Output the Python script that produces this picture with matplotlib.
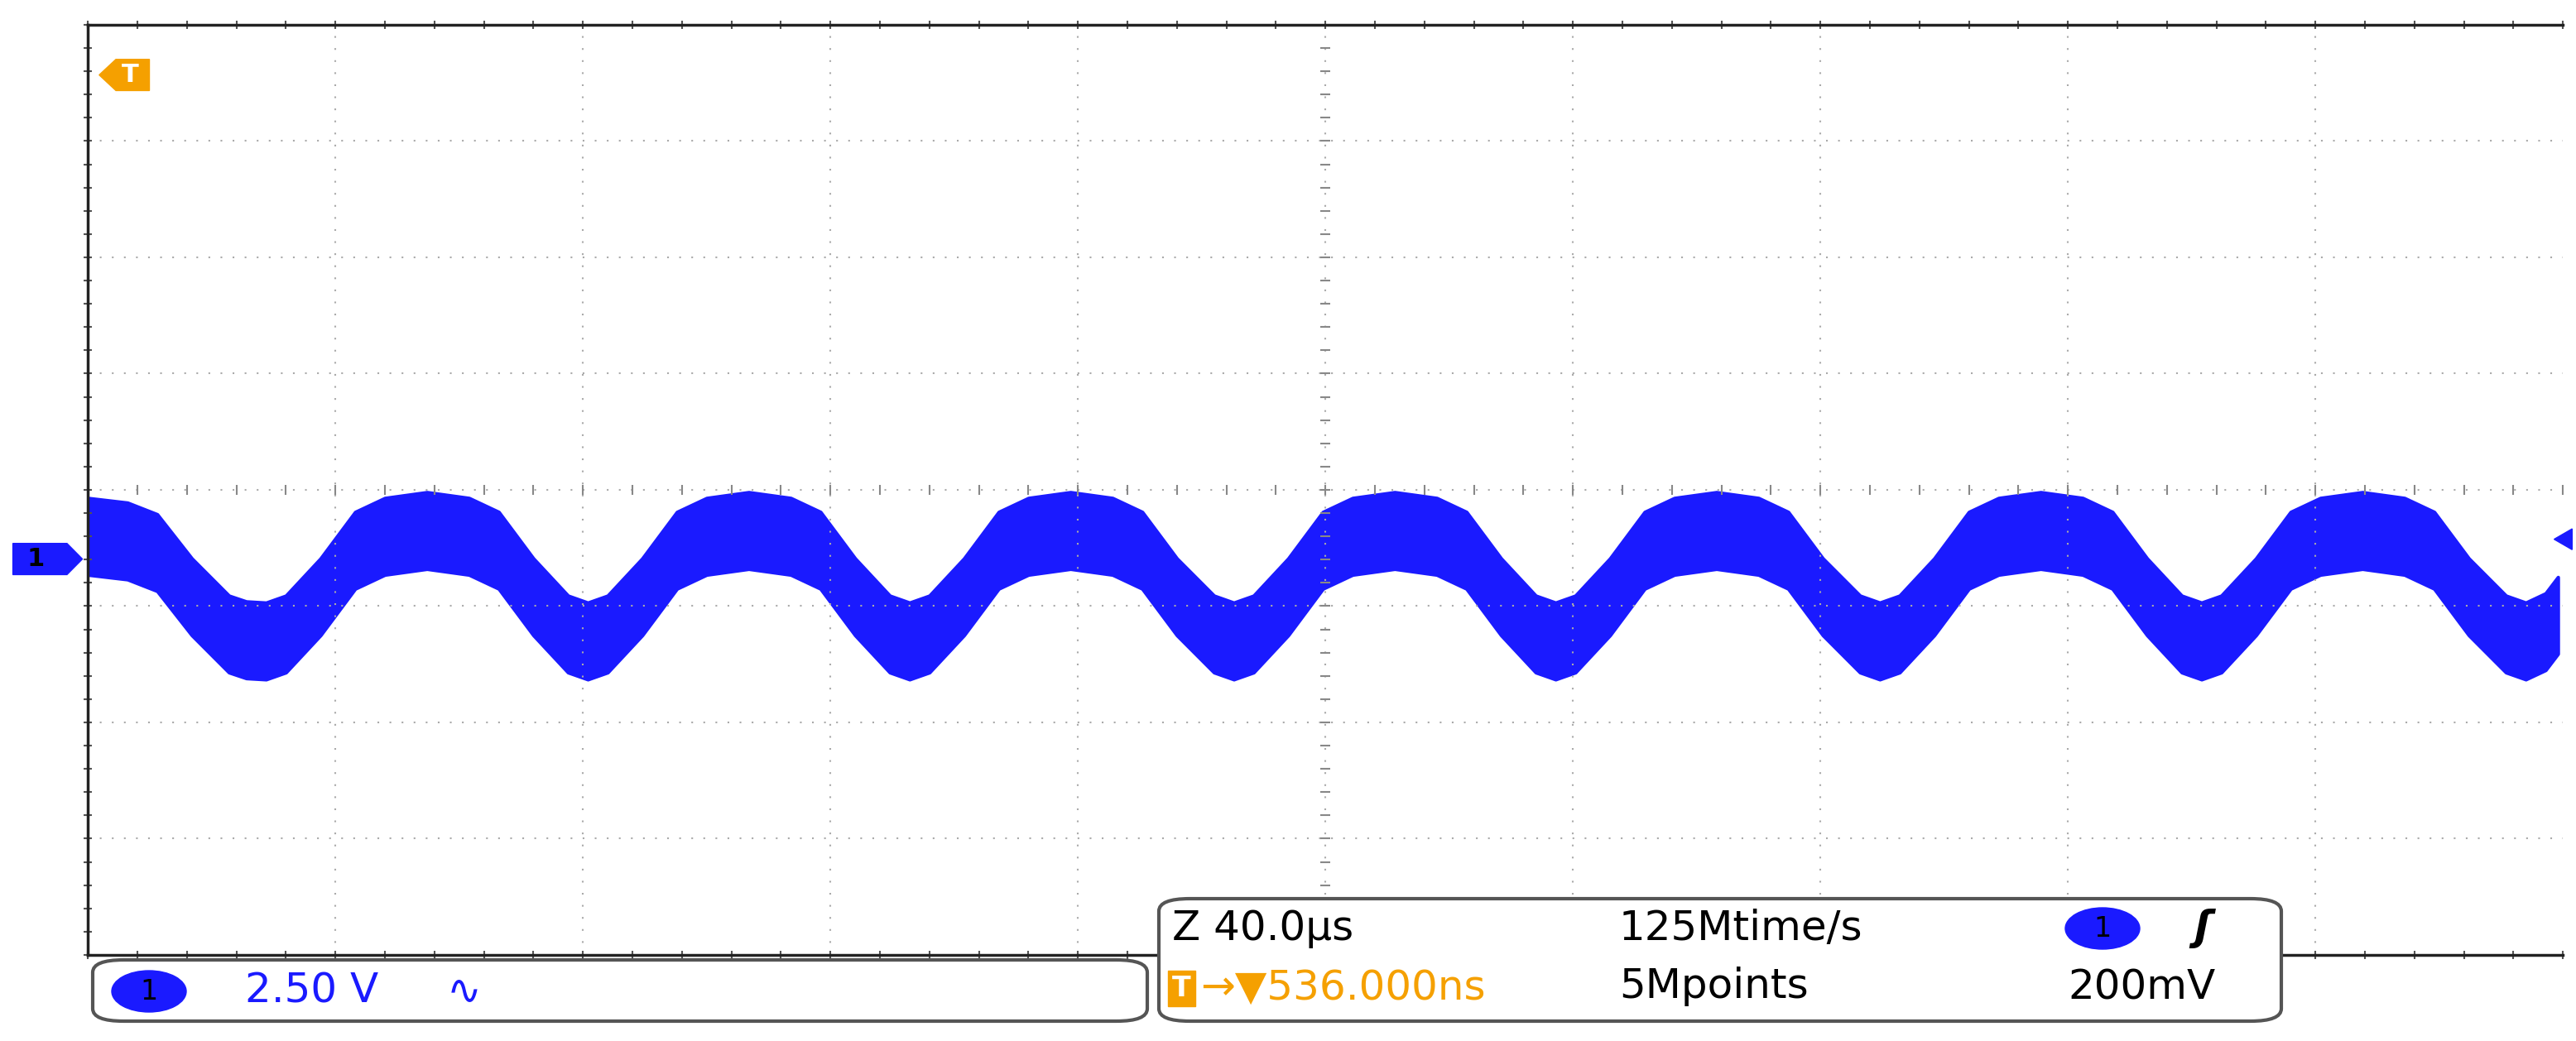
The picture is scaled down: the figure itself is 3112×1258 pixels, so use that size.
import matplotlib
matplotlib.use("Agg")
import matplotlib.pyplot as plt
from matplotlib.patches import FancyBboxPatch, Ellipse, Polygon
import numpy as np

# envelope centre of the blue trace (x in divisions, y in divisions from centre)
trace_x = [0.00, 0.16, 0.28, 0.42, 0.57, 0.64, 0.72,
           0.80, 0.94, 1.08, 1.20, 1.37, 1.54, 1.66, 1.80, 1.94, 2.02,
           2.10, 2.24, 2.38, 2.50, 2.67, 2.84, 2.96, 3.10, 3.24, 3.32,
           3.40, 3.54, 3.68, 3.80, 3.97, 4.14, 4.26, 4.40, 4.55, 4.63,
           4.71, 4.85, 4.99, 5.11, 5.28, 5.45, 5.57, 5.71, 5.85, 5.93,
           6.01, 6.15, 6.29, 6.41, 6.58, 6.75, 6.87, 7.01, 7.16, 7.24,
           7.32, 7.46, 7.60, 7.72, 7.89, 8.06, 8.18, 8.32, 8.46, 8.54,
           8.62, 8.76, 8.90, 9.02, 9.19, 9.36, 9.48, 9.62, 9.77, 9.85,
           9.93, 9.98]
trace_c = [-0.40, -0.44, -0.54, -0.92, -1.24, -1.29, -1.30,
           -1.24, -0.92, -0.52, -0.40, -0.35, -0.40, -0.52, -0.92, -1.24, -1.30,
           -1.24, -0.92, -0.52, -0.40, -0.35, -0.40, -0.52, -0.92, -1.24, -1.30,
           -1.24, -0.92, -0.52, -0.40, -0.35, -0.40, -0.52, -0.92, -1.24, -1.30,
           -1.24, -0.92, -0.52, -0.40, -0.35, -0.40, -0.52, -0.92, -1.24, -1.30,
           -1.24, -0.92, -0.52, -0.40, -0.35, -0.40, -0.52, -0.92, -1.24, -1.30,
           -1.24, -0.92, -0.52, -0.40, -0.35, -0.40, -0.52, -0.92, -1.24, -1.30,
           -1.24, -0.92, -0.52, -0.40, -0.35, -0.40, -0.52, -0.92, -1.24, -1.30,
           -1.22, -1.08]
band_half = 0.33

BLUE = "#1a1aff"
ORANGE = "#f5a000"

fig = plt.figure(figsize=(31.12, 12.58), dpi=100)
ax = fig.add_axes([0.0341, 0.0827, 0.9608, 0.8935])
ax.set_xlim(0, 10)
ax.set_ylim(-4, 4)
ax.set_xticks([]); ax.set_yticks([])
for s in ["left", "top", "bottom"]:
    ax.spines[s].set_color("#222222"); ax.spines[s].set_linewidth(2.5)
ax.spines["right"].set_visible(False)

# grid
for gx in range(1, 10):
    ax.axvline(gx, color="#aaaaaa", lw=1.5, ls=(0, (1, 6)))
for gy in range(-3, 4):
    ax.axhline(gy, color="#aaaaaa", lw=1.5, ls=(0, (1, 6)))
mt = np.arange(0, 10.01, 0.2)
ax.plot(mt, np.zeros_like(mt), ls="none", marker="|", ms=8, color="#888888", mew=1.5)
mt2 = np.arange(-4, 4.01, 0.2)
ax.plot(np.full_like(mt2, 5), mt2, ls="none", marker="_", ms=8, color="#888888", mew=1.5)
ax.plot(mt, np.full_like(mt, 4), ls="none", marker="|", ms=7, color="#555555", mew=1.5, clip_on=False)
ax.plot(mt, np.full_like(mt, -4), ls="none", marker="|", ms=7, color="#555555", mew=1.5, clip_on=False)
ax.plot(np.zeros_like(mt2), mt2, ls="none", marker="_", ms=7, color="#555555", mew=1.5, clip_on=False)

tx = np.array(trace_x); tc = np.array(trace_c)
ax.fill_between(tx, tc - band_half, tc + band_half, color=BLUE, lw=3, edgecolor=BLUE)

# markers
fig.patches.append(Polygon([[0.0385, 0.928], [0.045, 0.943], [0.058, 0.943], [0.058, 0.913], [0.045, 0.913]],
                           closed=True, transform=fig.transFigure, color=ORANGE))
fig.text(0.0505, 0.928, "T", color="white", fontsize=22, fontweight="bold", ha="center", va="center")
fig.patches.append(Polygon([[0.005, 0.478], [0.005, 0.448], [0.026, 0.448], [0.032, 0.463], [0.026, 0.478]],
                           closed=True, transform=fig.transFigure, color=BLUE))
fig.text(0.014, 0.463, "1", color="black", fontsize=22, fontweight="bold", ha="center", va="center")
fig.patches.append(Polygon([[0.9915, 0.482], [0.9985, 0.472], [0.9985, 0.492]],
                           closed=True, transform=fig.transFigure, color=BLUE))

def box(x0, y0, x1, y1):
    fig.patches.append(FancyBboxPatch((x0 / 3112, 1 - y1 / 1258), (x1 - x0) / 3112, (y1 - y0) / 1258,
                                      boxstyle="round,pad=0,rounding_size=0.012",
                                      transform=fig.transFigure, facecolor="white",
                                      edgecolor="#555555", lw=3, zorder=5))
box(112, 1160, 1386, 1234)
box(1400, 1086, 2756, 1234)

def tt(x, y, s, color="black", size=36, **kw):
    fig.text(x / 3112, 1 - y / 1258, s, color=color, fontsize=size, va="center", zorder=6, **kw)

fig.patches.append(Ellipse((180 / 3112, 1 - 1198 / 1258), 90 / 3112, 50 / 1258,
                           transform=fig.transFigure, color=BLUE, zorder=6))
tt(180, 1198, "1", ha="center", size=24)
tt(296, 1198, "2.50 V", color=BLUE)
tt(540, 1198, "∿", color=BLUE)

tt(1416, 1122, "Z 40.0µs")
tt(1956, 1122, "125Mtime/s")
tt(1956, 1192, "5Mpoints")
tt(1416, 1194, "T", color="white", size=24, fontweight="bold",
   bbox=dict(boxstyle="square,pad=0.15", fc=ORANGE, ec=ORANGE))
tt(1450, 1194, "→▼536.000ns", color=ORANGE)
fig.patches.append(Ellipse((2540 / 3112, 1 - 1122 / 1258), 90 / 3112, 50 / 1258,
                           transform=fig.transFigure, color=BLUE, zorder=6))
tt(2540, 1122, "1", ha="center", size=24)
tt(2650, 1122, "ʃ", fontstyle="italic", fontweight="bold")
tt(2498, 1194, "200mV")

fig.savefig("out.png", dpi=100, facecolor="white")
